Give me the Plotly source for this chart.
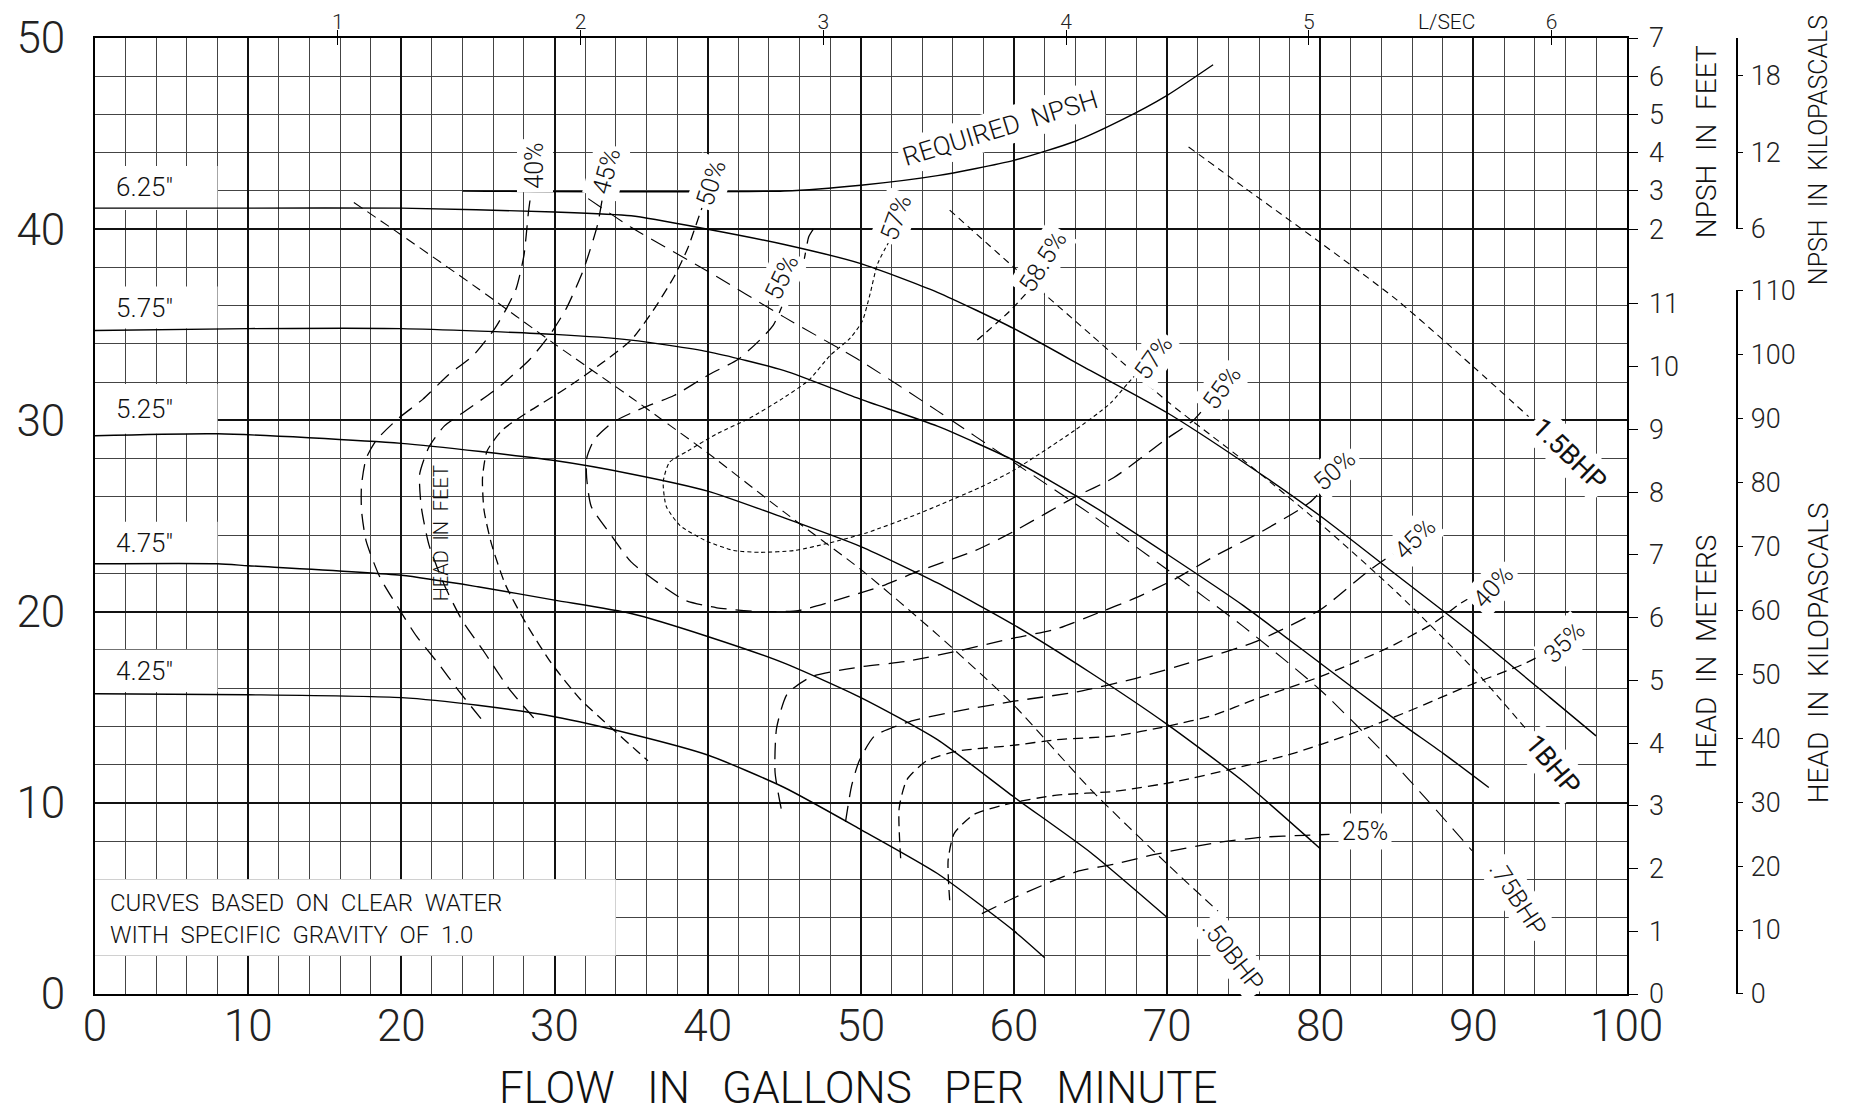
import plotly.graph_objects as go

# head-capacity curves per impeller diameter (flow gpm, head ft)
gpm_625 = [0, 10, 20, 30, 35, 40, 45, 50, 55, 60, 65, 70, 75, 80, 85, 90, 95, 98]
head_625 = [41.1, 41.1, 41.1, 40.9, 40.7, 40.0, 39.2, 38.2, 36.7, 34.8, 32.6, 30.4, 27.8, 25.0, 21.9, 18.8, 15.5, 13.5]
gpm_575 = [0, 10, 20, 30, 35, 40, 45, 50, 55, 60, 65, 70, 75, 80, 85, 88, 91]
head_575 = [34.7, 34.8, 34.8, 34.5, 34.2, 33.6, 32.6, 31.1, 29.7, 27.9, 25.6, 23.0, 20.3, 17.3, 14.3, 12.6, 10.8]
gpm_525 = [0, 8, 20, 30, 35, 40, 45, 50, 55, 60, 65, 70, 75, 80]
head_525 = [29.2, 29.3, 28.8, 27.9, 27.2, 26.3, 24.9, 23.4, 21.5, 19.3, 16.8, 14.1, 11.1, 7.6]
gpm_475 = [0, 8, 10, 20, 25, 30, 35, 40, 45, 50, 55, 60, 65, 70]
head_475 = [22.5, 22.5, 22.4, 21.9, 21.3, 20.6, 19.9, 18.7, 17.3, 15.5, 13.3, 10.3, 7.4, 4.0]
gpm_425 = [0, 10, 20, 25, 30, 35, 40, 45, 50, 55, 60, 62]
head_425 = [15.7, 15.65, 15.5, 15.1, 14.5, 13.6, 12.5, 10.8, 8.6, 6.3, 3.3, 1.9]

# required NPSH (plotted on head scale: head = 36 + 2 * npsh_ft)
gpm_npsh = [24, 45, 50, 55, 60, 64, 67, 70, 73]
head_npsh = [42.0, 42.0, 42.3, 42.8, 43.6, 44.6, 45.7, 47.0, 48.6]

# efficiency contours
e40a_x = [28.4, 28.3, 28.0, 27.5, 26.9, 26.1, 24.7, 23.1, 21.4, 19.8, 18.4, 17.7, 17.4, 17.4, 17.7, 18.6, 19.8, 21.0, 22.4, 23.8, 25.2]
e40a_y = [41.5, 40.9, 38.6, 36.9, 35.9, 34.8, 33.4, 32.4, 31.1, 30.1, 29.0, 28.0, 26.6, 25.3, 23.7, 21.8, 20.2, 18.7, 17.3, 15.8, 14.4]
e45a_x = [33.1, 32.8, 31.9, 30.8, 29.8, 28.4, 26.3, 24.2, 22.8, 21.8, 21.2, 21.3, 21.8, 22.8, 24.0, 25.4, 27.0, 28.9]
e45a_y = [41.5, 40.2, 37.9, 35.9, 34.6, 33.2, 31.7, 30.5, 29.7, 28.6, 27.2, 25.5, 23.5, 21.4, 19.5, 17.9, 16.0, 14.2]
e50a_x = [39.8, 39.4, 38.7, 37.8, 36.4, 35.0, 33.1, 30.8, 28.4, 26.6, 25.6, 25.3, 25.4, 25.9, 26.8, 28.2, 29.8, 31.7, 33.6, 35.4, 36.1]
e50a_y = [41.5, 40.6, 39.0, 37.5, 35.7, 34.2, 33.0, 31.7, 30.5, 29.5, 28.4, 27.0, 25.3, 23.5, 21.4, 19.3, 17.3, 15.4, 14.0, 12.7, 12.2]
e55_x = [46.9, 46.6, 46.2, 45.2, 44.3, 43.4, 42.0, 40.1, 37.8, 35.9, 33.8, 32.6, 32.1, 32.1, 32.4, 33.6, 35.0, 36.6, 38.5, 40.6, 43.4, 45.9, 48.0, 51.6, 53.7, 57.5, 60.0, 64.0, 66.5, 69.9, 71.7, 73.4]
e55_y = [40.0, 39.6, 38.1, 36.6, 35.0, 34.2, 33.2, 32.4, 31.3, 30.7, 29.9, 29.0, 28.0, 27.0, 25.5, 24.1, 22.6, 21.6, 20.6, 20.2, 20.0, 20.05, 20.5, 21.4, 22.1, 23.2, 24.2, 26.0, 27.0, 29.0, 30.0, 31.6]
e57_x = [52.3, 51.1, 50.6, 50.1, 49.3, 48.0, 46.6, 44.8, 42.7, 40.6, 38.7, 37.5, 37.1, 37.3, 38.2, 39.9, 41.7, 43.4, 45.7, 48.0, 50.3, 53.7, 57.8, 60.0, 64.0, 66.3, 67.5, 69.0]
e57_y = [40.0, 38.2, 36.6, 35.2, 34.3, 33.4, 32.1, 31.1, 30.1, 29.3, 28.4, 27.8, 26.8, 25.5, 24.5, 23.7, 23.2, 23.1, 23.2, 23.6, 24.1, 25.1, 26.5, 27.4, 29.5, 30.9, 32.0, 33.3]
e585_x = [57.6, 59.7, 61.2]
e585_y = [34.2, 35.7, 37.0]
e50b_x = [44.8, 44.4, 44.5, 45.2, 46.8, 49.9, 53.0, 56.1, 59.9, 62.8, 65.4, 67.9, 70.5, 73.1, 76.2, 79.3, 80.8]
e50b_y = [9.7, 11.6, 13.9, 15.7, 16.6, 17.1, 17.4, 17.9, 18.6, 19.1, 19.9, 20.7, 21.7, 22.9, 24.2, 25.7, 27.0]
e45b_x = [49.0, 49.4, 49.9, 50.9, 53.2, 56.3, 59.9, 64.1, 67.9, 71.8, 75.7, 80.0, 83.1, 86.0]
e45b_y = [9.0, 10.9, 12.2, 13.5, 14.25, 14.8, 15.3, 15.8, 16.5, 17.4, 18.4, 20.1, 22.1, 23.7]
e40b_x = [52.6, 52.5, 53.0, 54.3, 56.3, 59.9, 62.8, 66.6, 70.0, 73.1, 75.7, 80.0, 84.4, 87.4, 89.1, 91.0]
e40b_y = [7.1, 9.7, 11.2, 12.2, 12.7, 13.0, 13.3, 13.5, 14.0, 14.6, 15.4, 16.6, 18.1, 19.4, 20.4, 21.3]
e35_x = [55.8, 55.7, 56.1, 57.4, 59.9, 62.8, 66.6, 70.5, 74.4, 78.3, 82.0, 85.8, 89.9, 93.4, 95.5]
e35_y = [4.9, 7.0, 8.4, 9.4, 10.0, 10.4, 10.6, 11.1, 11.8, 12.6, 13.6, 14.8, 16.2, 17.3, 18.2]
e25_x = [57.9, 60.2, 64.1, 66.6, 69.2, 73.1, 76.2, 79.0, 80.6]
e25_y = [4.2, 5.1, 6.4, 6.8, 7.3, 7.9, 8.2, 8.3, 8.35]

# brake horsepower lines
bhp050_x = [16.9, 20, 25, 30, 35, 40, 45, 50, 55, 60, 65, 70, 73.5]
bhp050_y = [41.4, 39.7, 36.9, 34.0, 31.2, 28.3, 25.2, 22.2, 18.8, 15.1, 10.7, 6.8, 4.2]
bhp075_x = [32.2, 35, 40, 45, 50, 55, 60, 65, 70, 75, 80, 85, 89.9]
bhp075_y = [41.6, 40.1, 37.8, 35.4, 33.1, 30.5, 27.8, 25.1, 22.2, 19.2, 15.9, 11.9, 7.5]
bhp1_x = [55.8, 60, 65, 70, 75, 80, 85, 90, 93.5]
bhp1_y = [41.0, 38.0, 34.5, 31.0, 27.9, 24.6, 21.0, 17.0, 13.8]
bhp15_x = [71.4, 75, 80, 85, 90, 93.6]
bhp15_y = [44.3, 42.2, 39.3, 36.3, 32.8, 30.2]

# secondary scales
lps_ticks = [1, 2, 3, 4, 5, 6]
gpm_per_lps = 15.850
m_ticks = list(range(0, 12))
ft_per_m = 3.28084
npsh_ft_ticks = [2, 3, 4, 5, 6, 7]
kpa_head_ticks = list(range(0, 111, 10))
kpa_npsh_ticks = [6, 12, 18]

# page puts the figure 8px in from the top-left corner
OFF = 8
W, H = 1855, 1114
ML = 94.6 - OFF
MT = 37.9 - OFF
MB = H - (993.7 - OFF)
MR = 15
PW = W - ML - MR
PH = H - MT - MB


def px(xs):
    return (xs - OFF - ML) / PW


def py(ys):
    return (H - MB - (ys - OFF)) / PH


xdom = px(1626.6)
FONT = 'Roboto'
LONG = '16px,9px'
MED = '10px,6px'
SHORT = '4px,3px'

fig = go.Figure()


def curve(x, y, dash='solid', width=1.3, smooth=0.6):
    fig.add_trace(go.Scatter(x=x, y=y, mode='lines', hoverinfo='skip', showlegend=False,
                             line=dict(color='black', width=width, dash=dash, shape='spline', smoothing=smooth)))


for gx, gy in [(gpm_625, head_625), (gpm_575, head_575), (gpm_525, head_525),
               (gpm_475, head_475), (gpm_425, head_425), (gpm_npsh, head_npsh)]:
    curve(gx, gy, width=1.4)

curve(e40a_x, e40a_y, LONG)
curve(e45a_x, e45a_y, LONG)
curve(e50a_x, e50a_y, MED)
curve(e55_x, e55_y, LONG)
curve(e57_x, e57_y, SHORT, width=1.1)
curve(e585_x, e585_y, '7px,5px')
curve(e50b_x, e50b_y, LONG)
curve(e45b_x, e45b_y, LONG)
curve(e40b_x, e40b_y, MED)
curve(e35_x, e35_y, MED)
curve(e25_x, e25_y, LONG)
curve(bhp050_x, bhp050_y, MED, width=1.1)
curve(bhp075_x, bhp075_y, LONG, width=1.1)
curve(bhp1_x, bhp1_y, '7px,5px', width=1.1)
curve(bhp15_x, bhp15_y, '7px,5px', width=1.1)

# empty traces so the extra axes get drawn
for xa, ya in [('x2', 'y'), ('x3', 'y'), ('x', 'y2'), ('x4', 'y3'), ('x4', 'y4')]:
    fig.add_trace(go.Scatter(x=[None], y=[None], xaxis=xa, yaxis=ya, showlegend=False, hoverinfo='skip'))

# white label boxes that break the grid
boxes = [(0, 8, 41.0, 43.3), (0, 8, 34.8, 37.0), (0, 8, 29.3, 31.9),
         (0, 8, 22.5, 24.7), (0, 8, 15.8, 18.0), (0, 34, 2, 6)]
for x0, x1, y0, y1 in boxes:
    fig.add_shape(type='rect', x0=x0, x1=x1, y0=y0, y1=y1, xref='x', yref='y',
                  fillcolor='white', line=dict(width=0), layer='between')

ann = []


def label(text, x, y, angle=0, size=25, bg='white', xanchor='center', weight=300, ref='data'):
    d = dict(text=text, x=x, y=y, textangle=angle, showarrow=False, xanchor=xanchor, yanchor='middle',
             font=dict(family=FONT, size=size, color='#111', weight=weight), borderpad=3)
    if bg:
        d['bgcolor'] = bg
    if ref == 'paper':
        d['xref'] = 'paper'
        d['yref'] = 'paper'
    ann.append(d)


for txt, yy in [('6.25"', 42.2), ('5.75"', 35.9), ('5.25"', 30.6), ('4.75"', 23.6), ('4.25"', 16.9)]:
    label(txt, 1.1, yy, size=26, bg=None, xanchor='left')
label('CURVES  BASED  ON  CLEAR  WATER', 0.7, 4.75, size=24, bg=None, xanchor='left')
label('WITH  SPECIFIC  GRAVITY  OF  1.0', 0.7, 3.1, size=24, bg=None, xanchor='left')
label('HEAD  IN  FEET', 22.6, 24.1, angle=-90, size=20, bg=None)

label('40%', 28.7, 43.3, -90)
label('45%', 33.4, 43.0, -75)
label('50%', 40.2, 42.4, -72)
label('55%', 44.8, 37.5, -65)
label('57%', 52.3, 40.6, -70)
label('58.5%', 61.9, 38.3, -58)
label('57%', 69.1, 33.3, -55)
label('55%', 73.6, 31.7, -55)
label('50%', 80.9, 27.4, -42)
label('45%', 86.2, 23.8, -45)
label('40%', 91.3, 21.3, -48)
label('35%', 95.9, 18.4, -45)
label('25%', 82.9, 8.5, 0)
label('1.5BHP', 96.3, 28.2, 44, size=27, weight=400)
label('1BHP', 95.2, 12.0, 50, size=27, weight=400)
label('.75BHP', 92.9, 5.0, 57)
label('.50BHP', 74.3, 2.0, 52)
label('REQUIRED  NPSH', 59.1, 45.3, -17, size=26)

label('FLOW   IN   GALLONS   PER   MINUTE', px(858), py(1088), size=44, bg=None, ref='paper')
label('L/SEC', px(1446), py(22), size=21, bg=None, ref='paper')
label('NPSH  IN  FEET', px(1706), py(142), -90, size=28, bg=None, ref='paper')
label('HEAD  IN  METERS', px(1706), py(651), -90, size=28, bg=None, ref='paper')
label('HEAD  IN  KILOPASCALS', px(1818), py(653), -90, size=28, bg=None, ref='paper')
label('NPSH  IN  KILOPASCALS', px(1818), py(150), -90, size=25, bg=None, ref='paper')

tickfont_big = dict(family=FONT, size=44, color='#222', weight=300)
tickfont_small = dict(family=FONT, size=27, color='#222', weight=300)

fig.update_layout(
    width=W, height=H, margin=dict(l=ML, r=MR, t=MT, b=MB, autoexpand=False),
    paper_bgcolor='white', plot_bgcolor='white',
    font=dict(family=FONT, weight=300, color='#111'),
    annotations=ann,
    xaxis=dict(domain=[0, xdom], range=[0, 100], tick0=0, dtick=10, showgrid=True,
               gridcolor='#111', gridwidth=2, zeroline=False, automargin=False,
               minor=dict(dtick=2, showgrid=True, gridcolor='#444', gridwidth=1),
               showline=True, linecolor='black', linewidth=2, mirror=True,
               ticks='', tickfont=tickfont_big, ticklabelstandoff=-8),
    yaxis=dict(domain=[0, 1], range=[0, 50], tick0=0, dtick=10, showgrid=True,
               gridcolor='#111', gridwidth=2, zeroline=False, automargin=False,
               minor=dict(dtick=2, showgrid=True, gridcolor='#444', gridwidth=1),
               showline=True, linecolor='black', linewidth=2, mirror=True,
               ticks='', tickfont=tickfont_big, ticklabelstandoff=19),
    xaxis2=dict(overlaying='x', side='top', anchor='y', range=[0, 100], automargin=False,
                tickvals=[v * gpm_per_lps for v in lps_ticks], ticktext=[str(v) for v in lps_ticks],
                ticks='outside', ticklen=7, tickwidth=1, tickcolor='black',
                showgrid=False, showline=False, zeroline=False,
                tickfont=dict(family=FONT, size=21, color='#222', weight=300), ticklabelstandoff=-7),
    xaxis3=dict(overlaying='x', side='top', anchor='y', range=[0, 100], automargin=False,
                tickvals=[v * gpm_per_lps for v in lps_ticks], showticklabels=False,
                ticks='inside', ticklen=7, tickwidth=1, tickcolor='black',
                showgrid=False, showline=False, zeroline=False),
    yaxis2=dict(overlaying='y', side='right', anchor='x', range=[0, 50], automargin=False,
                tickvals=[m * ft_per_m for m in m_ticks] + [36 + 2 * n for n in npsh_ft_ticks],
                ticktext=[str(m) for m in m_ticks] + [str(n) for n in npsh_ft_ticks],
                ticks='outside', ticklen=10, tickwidth=1.2, tickcolor='black',
                showgrid=False, showline=False, zeroline=False, tickfont=tickfont_small, ticklabelstandoff=6),
    xaxis4=dict(domain=[px(1735.5) - 0.01, px(1735.5)], range=[0, 1], visible=False, anchor='y3',
                automargin=False),
    yaxis3=dict(domain=[0, 110 / 9.80665 * ft_per_m / 50], range=[0, 110], anchor='x4', side='right',
                tickvals=kpa_head_ticks, ticks='outside', ticklen=6, tickwidth=1.2, tickcolor='black',
                showline=True, linecolor='black', linewidth=1.5, showgrid=False, zeroline=False,
                tickfont=tickfont_small, ticklabelstandoff=2, automargin=False),
)

# NPSH kPa scale: head ft 40..50 maps to NPSH ft 2..7
npsh_lo_kpa = 2 / ft_per_m * 9.80665
npsh_hi_kpa = 7 / ft_per_m * 9.80665
fig.update_layout(yaxis4=dict(domain=[0.8, 1.0], anchor='x4', side='right',
                              range=[npsh_lo_kpa, npsh_hi_kpa], tickvals=kpa_npsh_ticks,
                              showline=True, linecolor='black', linewidth=1.5, showgrid=False, zeroline=False,
                              ticks='outside', ticklen=6, tickwidth=1.2, tickcolor='black',
                              tickfont=tickfont_small, ticklabelstandoff=2, automargin=False))

fig.write_html("out.html")
